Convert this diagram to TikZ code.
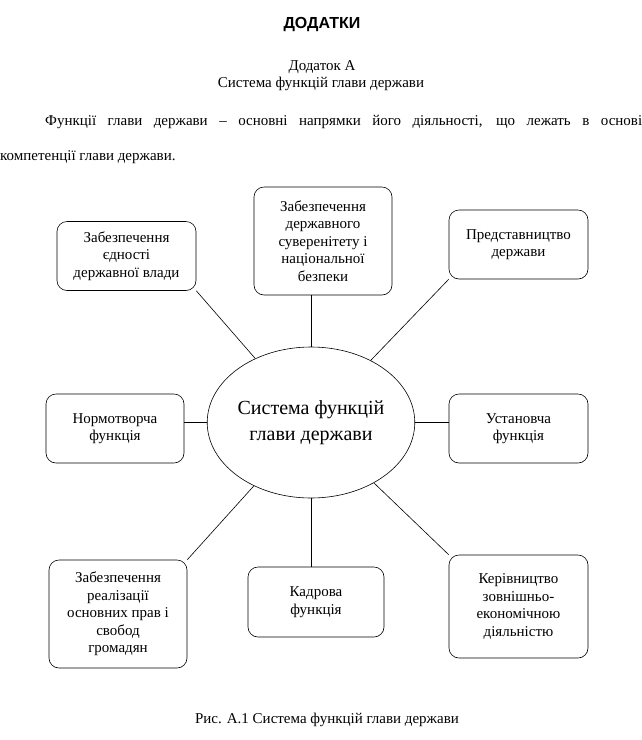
\documentclass[tikz,border=0pt]{standalone}
\usepackage{fontspec}
\setmainfont{Liberation Serif}
\newfontfamily\headfont{Liberation Sans}
\usetikzlibrary{shapes.geometric}
\begin{document}
\begin{tikzpicture}[x=1pt, y=-1pt,
  func/.style={draw, rounded corners=10pt, align=center, inner sep=2pt, line width=0.6pt, font=\fontsize{15}{17.5}\selectfont},
  core/.style={draw, ellipse, align=center, inner sep=0pt, minimum width=186pt, minimum height=151pt, line width=0.6pt, font=\fontsize{20}{26}\selectfont},
  txt/.style={anchor=base, inner sep=0pt, font=\fontsize{15}{18}\selectfont},
  link/.style={line width=0.6pt}]
  \useasboundingbox (0,0) rectangle (642,740);
  % headings and text
  \node[txt, font=\headfont\bfseries\fontsize{16}{19}\selectfont] (head) at (322,28) {ДОДАТКИ};
  \node[txt] (appx) at (322,70) {Додаток А};
  \node[txt] (appt) at (321,87) {Система функцій глави держави};
  \node[txt, anchor=base west] (par1) at (45,125) {\makebox[597pt][s]{Функції глави держави – основні напрямки його діяльності, що лежать в основі}};
  \node[txt, anchor=base west] (par2) at (0,160) {компетенції глави держави.};
  % centre
  \node[core] (sys) at (311,422.5) {Система функцій\\глави держави};
  % functions
  \node[func, minimum width=139pt, minimum height=69pt] (unity) at (126.5,256) {Забезпечення\\єдності\\державної влади};
  \node[func, minimum width=138pt, minimum height=108pt] (sover) at (323,241) {Забезпечення\\державного\\суверенітету і\\національної\\безпеки};
  \node[func, minimum width=139pt, minimum height=69pt] (repr) at (518.5,244.5) {Представництво\\держави};
  \node[func, minimum width=138pt, minimum height=69pt] (norm) at (115,428.5) {Нормотворча\\функція};
  \node[func, minimum width=139pt, minimum height=69pt] (inst) at (518.5,428.5) {Установча\\функція};
  \node[func, minimum width=138pt, minimum height=108pt] (rights) at (118,614) {Забезпечення\\реалізації\\основних прав і\\свобод\\громадян};
  \node[func, minimum width=136pt, minimum height=70pt] (staff) at (316,602) {Кадрова\\функція};
  \node[func, minimum width=139pt, minimum height=103pt] (econ) at (518.5,606.5) {Керівництво\\зовнішньо-\\економічною\\діяльністю};
  % links
  \draw[link] (unity.south east) -- (sys);
  \draw[link] (sover.south -| sys.north) -- (sys.north);
  \draw[link] (repr.south west) -- (sys);
  \draw[link] (sys.west) -- (sys.west -| norm.east);
  \draw[link] (sys.east) -- (sys.east -| inst.west);
  \draw[link] (rights.north east) -- (sys);
  \draw[link] (sys.south) -- (sys.south |- staff.north);
  \draw[link] (econ.north west) -- (sys);
  % caption
  \node[txt] (capt) at (327,723) {Рис. А.1 Система функцій глави держави};
\end{tikzpicture}
\end{document}
